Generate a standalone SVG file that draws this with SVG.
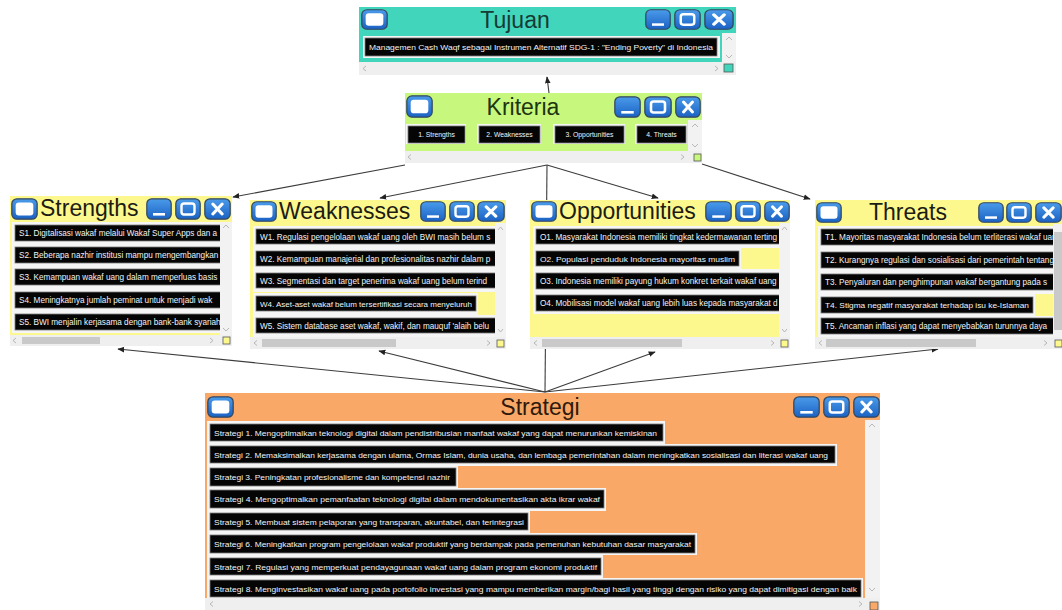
<svg xmlns="http://www.w3.org/2000/svg" xmlns:xlink="http://www.w3.org/1999/xlink" width="1062" height="610" viewBox="0 0 1062 610">
<style>
.ttl{font-family:"Liberation Sans",Arial,sans-serif;font-size:23px;fill:#1c1c14}
.it{font-family:"Liberation Sans",Arial,sans-serif;font-size:7.8px;fill:#f4f4f4}
.is{font-family:"Liberation Sans",Arial,sans-serif;font-size:8.2px;fill:#f4f4f4}
.kt{font-family:"Liberation Sans",Arial,sans-serif;font-size:6.8px;fill:#f4f4f4}
.iw{fill:#f5f5f5}
.ib{fill:#050505;stroke:#7a7a7a;stroke-width:0.8}
.col{fill:#f2f2f2}
.bar{fill:#efefef}
.thumb{fill:#c9c9c9}
.chev{fill:none;stroke:#b0b0b0;stroke-width:0.9}
.teal{fill:#41d5bb}
.lime{fill:#c8f77d}
.yel{fill:#fcf88d}
.org{fill:#f9a867}
.sq{stroke:#555;stroke-width:0.8}
.conn{fill:none;stroke:#3c3c3c;stroke-width:1.1}
</style>
<defs>
<linearGradient id="blue" x1="0" y1="0" x2="0" y2="1">
<stop offset="0" stop-color="#4a9bea"/><stop offset="1" stop-color="#1b62c4"/>
</linearGradient>
<symbol id="bmin" viewBox="0 0 26 22" preserveAspectRatio="none">
<rect x="0.8" y="0.8" width="24.4" height="20.4" rx="5" fill="url(#blue)" stroke="#34465c" stroke-width="1.2"/>
<rect x="7" y="15" width="12" height="2.6" fill="#fff"/>
</symbol>
<symbol id="bmax" viewBox="0 0 26 22" preserveAspectRatio="none">
<rect x="0.8" y="0.8" width="24.4" height="20.4" rx="5" fill="url(#blue)" stroke="#34465c" stroke-width="1.2"/>
<rect x="6.5" y="5.5" width="13" height="11" rx="2.5" fill="none" stroke="#fff" stroke-width="2.4"/>
</symbol>
<symbol id="bclose" viewBox="0 0 26 22" preserveAspectRatio="none">
<rect x="0.8" y="0.8" width="24.4" height="20.4" rx="5" fill="url(#blue)" stroke="#34465c" stroke-width="1.2"/>
<path d="M8.5,6 L17.5,16 M17.5,6 L8.5,16" stroke="#fff" stroke-width="3" stroke-linecap="round"/>
</symbol>
<symbol id="bicon" viewBox="0 0 26 22" preserveAspectRatio="none">
<rect x="0.8" y="0.8" width="24.4" height="20.4" rx="5" fill="url(#blue)" stroke="#34465c" stroke-width="1.2"/>
<rect x="4.5" y="4.5" width="17" height="13" rx="3" fill="#fff"/>
</symbol>
<marker id="ah" viewBox="0 0 10 10" refX="9" refY="5" markerWidth="7" markerHeight="7" orient="auto-start-reverse" markerUnits="userSpaceOnUse">
<path d="M0,1 L10,5 L0,9 Z" fill="#222"/>
</marker>
<clipPath id="cT"><rect x="359" y="33" width="363" height="29"/></clipPath>
<clipPath id="cS"><rect x="10" y="222" width="210" height="113"/></clipPath>
<clipPath id="cW"><rect x="250" y="223" width="245" height="114"/></clipPath>
<clipPath id="cO"><rect x="530" y="223" width="249" height="114"/></clipPath>
<clipPath id="cTh"><rect x="815" y="224" width="238" height="113"/></clipPath>
<clipPath id="cSt"><rect x="205" y="420" width="660" height="178"/></clipPath>
</defs>
<rect x="0" y="0" width="1062" height="610" fill="#ffffff"/>

<g id="connectors">
<line class="conn" x1="549" y1="93" x2="547" y2="77" marker-end="url(#ah)"/>
<line class="conn" x1="405" y1="165" x2="233" y2="197" marker-end="url(#ah)"/>
<line class="conn" x1="547" y1="165" x2="380" y2="198" marker-end="url(#ah)"/>
<line class="conn" x1="547" y1="165" x2="658" y2="198" marker-end="url(#ah)"/>
<line class="conn" x1="702" y1="164" x2="810" y2="199" marker-end="url(#ah)"/>
<line class="conn" x1="547" y1="165" x2="545" y2="392"/>
<line class="conn" x1="545" y1="392" x2="118" y2="349" marker-end="url(#ah)"/>
<line class="conn" x1="545" y1="392" x2="379" y2="351" marker-end="url(#ah)"/>
<line class="conn" x1="545" y1="392" x2="655" y2="352" marker-end="url(#ah)"/>
<line class="conn" x1="545" y1="392" x2="938" y2="349" marker-end="url(#ah)"/>
</g>

<g id="tujuan">
<rect x="359" y="7" width="377" height="68" fill="#f4f4f4"/>
<rect class="teal" x="359" y="7" width="377" height="26"/>
<use href="#bicon" x="361" y="9" width="27" height="21"/>
<text class="ttl" x="515" y="28" text-anchor="middle" style="fill:#163a34">Tujuan</text>
<use href="#bmin" x="645" y="9" width="26" height="21"/>
<use href="#bmax" x="674" y="9" width="27" height="21"/>
<use href="#bclose" x="704" y="9" width="30" height="21"/>
<rect class="teal" x="359" y="33" width="363" height="29"/>
<g clip-path="url(#cT)">
<rect class="iw" x="363" y="36" width="357" height="22"/>
<rect class="ib" x="365" y="38" width="352" height="18"/>
<text class="it" x="369" y="50" textLength="344" lengthAdjust="spacingAndGlyphs">Managemen Cash Waqf sebagai Instrumen Alternatif SDG-1 : "Ending Poverty" di Indonesia</text>
</g>
<rect class="col" x="722" y="33" width="14" height="29"/>
<path class="chev" d="M726,40 L729,37 L732,40 M726,55 L729,58 L732,55"/>
<rect class="bar" x="359" y="62" width="377" height="13"/>
<path class="chev" d="M366,66 L363,68.5 L366,71 M715,66 L718,68.5 L715,71"/>
<rect class="teal sq" x="724" y="64" width="9" height="8"/>
</g>

<g id="kriteria">
<rect x="405" y="93" width="297" height="70" fill="#f4f4f4"/>
<rect class="lime" x="405" y="93" width="297" height="27"/>
<use href="#bicon" x="406" y="95" width="27" height="23"/>
<text class="ttl" x="523" y="115" text-anchor="middle" style="fill:#1d350f">Kriteria</text>
<use href="#bmin" x="614" y="96" width="27" height="22"/>
<use href="#bmax" x="644" y="96" width="28" height="22"/>
<use href="#bclose" x="675" y="96" width="26" height="22"/>
<rect class="lime" x="405" y="120" width="283" height="31"/>
<rect class="iw" x="406" y="124" width="60" height="20"/>
<rect class="ib" x="408" y="126" width="57" height="17"/>
<text class="kt" x="436.5" y="137" text-anchor="middle">1. Strengths</text>
<rect class="iw" x="477" y="124" width="64" height="20"/>
<rect class="ib" x="479" y="126" width="61" height="17"/>
<text class="kt" x="509.5" y="137" text-anchor="middle">2. Weaknesses</text>
<rect class="iw" x="553" y="124" width="72" height="20"/>
<rect class="ib" x="555" y="126" width="69" height="17"/>
<text class="kt" x="589.5" y="137" text-anchor="middle">3. Opportunities</text>
<rect class="iw" x="635" y="124" width="52" height="20"/>
<rect class="ib" x="637" y="126" width="49" height="17"/>
<text class="kt" x="661.5" y="137" text-anchor="middle">4. Threats</text>
<rect class="col" x="688" y="120" width="14" height="31"/>
<path class="chev" d="M692,127 L695,124 L698,127 M692,144 L695,147 L698,144"/>
<rect class="bar" x="405" y="151" width="297" height="12"/>
<path class="chev" d="M411,154.5 L408,157 L411,159.5 M681,154.5 L684,157 L681,159.5"/>
<rect class="lime sq" x="694" y="154" width="7" height="7"/>
</g>

<g id="strengths">
<rect x="10" y="196" width="222" height="150" fill="#f4f4f4"/>
<rect class="yel" x="10" y="196" width="222" height="26"/>
<use href="#bicon" x="11" y="198" width="27" height="22"/>
<text class="ttl" x="40" y="216">Strengths</text>
<use href="#bmin" x="146" y="198" width="26" height="22"/>
<use href="#bmax" x="175" y="198" width="26" height="22"/>
<use href="#bclose" x="204" y="198" width="27" height="22"/>
<rect class="yel" x="10" y="222" width="210" height="113"/>
<g clip-path="url(#cS)">
<rect class="iw" x="12" y="222" width="210" height="22"/><rect class="ib" x="15" y="225" width="210" height="16"/>
<text class="is" x="19" y="236">S1. Digitalisasi wakaf melalui Wakaf Super Apps dan a</text>
<rect class="iw" x="12" y="244" width="210" height="22"/><rect class="ib" x="15" y="247" width="210" height="16"/>
<text class="is" x="19" y="258">S2. Beberapa nazhir institusi mampu mengembangkan</text>
<rect class="iw" x="12" y="266" width="210" height="23"/><rect class="ib" x="15" y="269" width="210" height="16"/>
<text class="is" x="19" y="280">S3. Kemampuan wakaf uang dalam memperluas basis</text>
<rect class="iw" x="12" y="289" width="210" height="22"/><rect class="ib" x="15" y="292" width="210" height="16"/>
<text class="is" x="19" y="303">S4. Meningkatnya jumlah peminat untuk menjadi wak</text>
<rect class="iw" x="12" y="311" width="210" height="22"/><rect class="ib" x="15" y="314" width="210" height="16"/>
<text class="is" x="19" y="325">S5. BWI menjalin kerjasama dengan bank-bank syariah</text>
</g>
<rect class="col" x="220" y="222" width="12" height="113"/>
<path class="chev" d="M223,228 L226,225 L229,228 M223,328 L226,331 L229,328"/>
<rect class="bar" x="10" y="335" width="222" height="11"/>
<rect class="thumb" x="22" y="337" width="78" height="7"/>
<path class="chev" d="M16,338 L13,340.5 L16,343 M210,338 L213,340.5 L210,343"/>
<rect class="yel sq" x="223" y="337" width="7" height="7"/>
</g>

<g id="weaknesses">
<rect x="250" y="200" width="256" height="149" fill="#f4f4f4"/>
<rect class="yel" x="250" y="200" width="256" height="23"/>
<use href="#bicon" x="251" y="201" width="26" height="21"/>
<text class="ttl" x="279" y="219">Weaknesses</text>
<use href="#bmin" x="420" y="201" width="26" height="21"/>
<use href="#bmax" x="449" y="201" width="26" height="21"/>
<use href="#bclose" x="477" y="201" width="28" height="21"/>
<rect class="yel" x="250" y="223" width="245" height="114"/>
<g clip-path="url(#cW)">
<rect class="iw" x="253" y="226" width="245" height="22"/><rect class="ib" x="256" y="229" width="245" height="15"/>
<text class="is" x="260" y="239.5">W1. Regulasi pengelolaan wakaf uang oleh BWI masih belum s</text>
<rect class="iw" x="253" y="248" width="245" height="22"/><rect class="ib" x="256" y="251" width="245" height="15"/>
<text class="is" x="260" y="261.5">W2. Kemampuan manajerial dan profesionalitas nazhir dalam p</text>
<rect class="iw" x="253" y="270" width="245" height="22"/><rect class="ib" x="256" y="273" width="245" height="15"/>
<text class="is" x="260" y="283.5">W3. Segmentasi dan target penerima wakaf uang belum terind</text>
<rect class="iw" x="253" y="293" width="225" height="22"/><rect class="ib" x="256" y="296" width="220" height="15"/>
<text class="it" x="260" y="306.5" textLength="212" lengthAdjust="spacingAndGlyphs">W4. Aset-aset wakaf belum tersertifikasi secara menyeluruh</text>
<rect class="iw" x="253" y="315" width="245" height="22"/><rect class="ib" x="256" y="318" width="245" height="15"/>
<text class="is" x="260" y="328.5">W5. Sistem database aset wakaf, wakif, dan mauquf 'alaih  belu</text>
</g>
<rect class="col" x="495" y="223" width="11" height="114"/>
<path class="chev" d="M498,230 L500.5,227 L503,230 M498,329 L500.5,332 L503,329"/>
<rect class="bar" x="250" y="337" width="256" height="12"/>
<rect class="thumb" x="262" y="339" width="134" height="8"/>
<path class="chev" d="M257,340.5 L254,343 L257,345.5 M487,340.5 L490,343 L487,345.5"/>
<rect class="yel sq" x="497" y="340" width="7" height="7"/>
</g>

<g id="opportunities">
<rect x="530" y="200" width="260" height="149" fill="#f4f4f4"/>
<rect class="yel" x="530" y="200" width="260" height="23"/>
<use href="#bicon" x="531" y="201" width="26" height="21"/>
<text class="ttl" x="559" y="219">Opportunities</text>
<use href="#bmin" x="705" y="201" width="27" height="21"/>
<use href="#bmax" x="735" y="201" width="26" height="21"/>
<use href="#bclose" x="764" y="201" width="26" height="21"/>
<rect class="yel" x="530" y="223" width="249" height="114"/>
<g clip-path="url(#cO)">
<rect class="iw" x="533" y="226" width="250" height="22"/><rect class="ib" x="536" y="229" width="250" height="15"/>
<text class="is" x="540" y="239.5">O1. Masyarakat Indonesia memiliki tingkat kedermawanan terting</text>
<rect class="iw" x="533" y="248" width="208" height="21"/><rect class="ib" x="536" y="251" width="203" height="15"/>
<text class="it" x="540" y="261.5" textLength="195" lengthAdjust="spacingAndGlyphs">O2. Populasi penduduk Indonesia mayoritas muslim</text>
<rect class="iw" x="533" y="269" width="250" height="23"/><rect class="ib" x="536" y="273" width="250" height="16"/>
<text class="is" x="540" y="284">O3. Indonesia memiliki payung hukum konkret terkait wakaf uang</text>
<rect class="iw" x="533" y="292" width="250" height="22"/><rect class="ib" x="536" y="295" width="250" height="16"/>
<text class="is" x="540" y="306">O4. Mobilisasi model wakaf uang lebih luas kepada masyarakat d</text>
</g>
<rect class="col" x="779" y="223" width="11" height="114"/>
<path class="chev" d="M782,230 L784.5,227 L787,230 M782,329 L784.5,332 L787,329"/>
<rect class="bar" x="530" y="337" width="260" height="12"/>
<rect class="thumb" x="542" y="339" width="140" height="8"/>
<path class="chev" d="M537,340.5 L534,343 L537,345.5 M771,340.5 L774,343 L771,345.5"/>
<rect class="yel sq" x="781" y="340" width="7" height="7"/>
</g>

<g id="threats">
<rect x="815" y="200" width="247" height="149" fill="#f4f4f4"/>
<rect class="yel" x="815" y="200" width="247" height="24"/>
<use href="#bicon" x="816" y="202" width="26" height="21"/>
<text class="ttl" x="908" y="220" text-anchor="middle">Threats</text>
<use href="#bmin" x="978" y="202" width="26" height="21"/>
<use href="#bmax" x="1006" y="202" width="26" height="21"/>
<use href="#bclose" x="1035" y="202" width="27" height="21"/>
<rect class="yel" x="815" y="224" width="238" height="113"/>
<g clip-path="url(#cTh)">
<rect class="iw" x="818" y="226" width="240" height="23"/><rect class="ib" x="821" y="229" width="240" height="16"/>
<text class="is" x="825" y="240">T1. Mayoritas masyarakat Indonesia belum terliterasi wakaf uang</text>
<rect class="iw" x="818" y="249" width="240" height="22"/><rect class="ib" x="821" y="252" width="240" height="16"/>
<text class="is" x="825" y="263">T2. Kurangnya regulasi dan sosialisasi dari pemerintah tentang</text>
<rect class="iw" x="818" y="271" width="240" height="23"/><rect class="ib" x="821" y="274" width="240" height="16"/>
<text class="is" x="825" y="285">T3. Penyaluran dan penghimpunan wakaf bergantung pada s</text>
<rect class="iw" x="818" y="294" width="217" height="22"/><rect class="ib" x="821" y="297" width="212" height="16"/>
<text class="it" x="825" y="308" textLength="204" lengthAdjust="spacingAndGlyphs">T4. Stigma negatif masyarakat terhadap isu ke-Islaman</text>
<rect class="iw" x="818" y="316" width="240" height="21"/><rect class="ib" x="821" y="318" width="240" height="16"/>
<text class="is" x="825" y="329">T5. Ancaman inflasi yang dapat menyebabkan turunnya daya</text>
</g>
<rect class="col" x="1053" y="224" width="9" height="113"/>
<rect class="thumb" x="1054" y="232" width="8" height="98"/>
<rect class="bar" x="815" y="337" width="247" height="12"/>
<rect class="thumb" x="826" y="339" width="150" height="8"/>
<path class="chev" d="M822,340.5 L819,343 L822,345.5 M1044,340.5 L1047,343 L1044,345.5"/>
<rect class="yel sq" x="1055" y="340" width="7" height="7"/>
</g>

<g id="strategi">
<rect x="205" y="393" width="675" height="217" fill="#f4f4f4"/>
<rect class="org" x="205" y="393" width="675" height="27"/>
<use href="#bicon" x="207" y="396" width="27" height="22"/>
<text class="ttl" x="540" y="415" text-anchor="middle" style="fill:#2e1a0c">Strategi</text>
<use href="#bmin" x="793" y="396" width="27" height="22"/>
<use href="#bmax" x="823" y="396" width="27" height="22"/>
<use href="#bclose" x="853" y="396" width="27" height="22"/>
<rect class="org" x="205" y="420" width="660" height="178"/>
<g clip-path="url(#cSt)">
<rect class="iw" x="207" y="421" width="458" height="23"/><rect class="ib" x="210" y="424" width="453" height="17"/>
<text class="it" x="214" y="435.5" textLength="443" lengthAdjust="spacingAndGlyphs">Strategi 1. Mengoptimalkan teknologi digital dalam pendistribusian manfaat wakaf yang dapat menurunkan kemiskinan</text>
<rect class="iw" x="207" y="444" width="630" height="22"/><rect class="ib" x="210" y="446" width="625" height="17"/>
<text class="it" x="214" y="457.5" textLength="614" lengthAdjust="spacingAndGlyphs">Strategi 2. Memaksimalkan kerjasama dengan ulama, Ormas Islam, dunia usaha, dan lembaga pemerintahan dalam meningkatkan sosialisasi dan literasi wakaf uang</text>
<rect class="iw" x="207" y="466" width="251" height="22"/><rect class="ib" x="210" y="468" width="246" height="18"/>
<text class="it" x="214" y="480" textLength="236" lengthAdjust="spacingAndGlyphs">Strategi 3. Peningkatan profesionalisme dan kompetensi nazhir</text>
<rect class="iw" x="207" y="488" width="399" height="23"/><rect class="ib" x="210" y="490" width="394" height="18"/>
<text class="it" x="214" y="502" textLength="386" lengthAdjust="spacingAndGlyphs">Strategi 4. Mengoptimalkan pemanfaatan teknologi digital dalam mendokumentasikan akta ikrar wakaf</text>
<rect class="iw" x="207" y="511" width="323" height="22"/><rect class="ib" x="210" y="513" width="318" height="17"/>
<text class="it" x="214" y="524.5" textLength="310" lengthAdjust="spacingAndGlyphs">Strategi 5. Membuat sistem pelaporan yang transparan, akuntabel, dan terintegrasi</text>
<rect class="iw" x="207" y="533" width="490" height="22"/><rect class="ib" x="210" y="535" width="485" height="18"/>
<text class="it" x="214" y="547" textLength="477" lengthAdjust="spacingAndGlyphs">Strategi 6. Meningkatkan program pengelolaan wakaf produktif yang berdampak pada pemenuhan kebutuhan dasar masyarakat</text>
<rect class="iw" x="207" y="555" width="396" height="23"/><rect class="ib" x="210" y="558" width="391" height="17"/>
<text class="it" x="214" y="569.5" textLength="383" lengthAdjust="spacingAndGlyphs">Strategi 7. Regulasi yang memperkuat pendayagunaan wakaf uang dalam program ekonomi produktif</text>
<rect class="iw" x="207" y="578" width="656" height="22"/><rect class="ib" x="210" y="580" width="651" height="17"/>
<text class="it" x="214" y="591.5" textLength="643" lengthAdjust="spacingAndGlyphs">Strategi 8. Menginvestasikan wakaf uang pada portofolio investasi yang mampu memberikan margin/bagi hasil yang tinggi dengan risiko yang dapat dimitigasi dengan baik</text>
</g>
<rect class="col" x="865" y="420" width="15" height="178"/>
<path class="chev" d="M869,427 L872,424 L875,427 M869,588 L872,591 L875,588"/>
<rect class="bar" x="205" y="598" width="675" height="12"/>
<path class="chev" d="M213,601.5 L210,604 L213,606.5 M859,601.5 L862,604 L859,606.5"/>
<rect class="org sq" x="870" y="602" width="8" height="8"/>
</g>
</svg>
